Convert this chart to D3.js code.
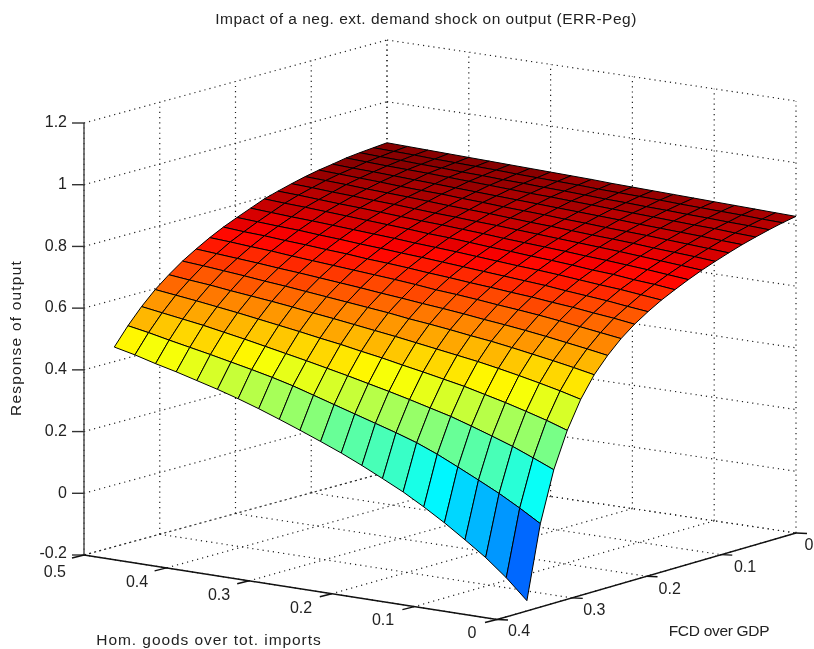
<!DOCTYPE html>
<html><head><meta charset="utf-8">
<style>html,body{margin:0;padding:0;background:#fff;overflow:hidden}svg{display:block;filter:blur(0.35px)}text{font-family:"Liberation Sans",Arial,sans-serif;fill:#222}</style>
<script src="https://cdn.jsdelivr.net/npm/d3@7"></script></head><body>
<svg id="c" width="814" height="649"></svg>
<script>
const titleText="Impact of a neg. ext. demand shock on output (ERR-Peg)";
const xLabel="Hom. goods over tot. imports", yLabel="FCD over GDP", zLabel="Response of output";
const homTicks=[0.5,0.4,0.3,0.2,0.1,0];
const fcdTicks=[0.4,0.3,0.2,0.1,0];
const zTicks=[-0.2,0,0.2,0.4,0.6,0.8,1,1.2];
const homGrid=[0.5,0.475,0.45,0.425,0.4,0.375,0.35,0.325,0.3,0.275,0.25,0.225,0.2,0.175,0.15,0.125,0.1,0.075,0.05,0.025,0];
const fcdGrid=[0,0.018,0.036,0.054,0.072,0.09,0.108,0.126,0.144,0.162,0.18,0.198,0.216,0.234,0.252,0.27,0.288,0.306,0.324,0.342,0.36];
const r00=[.867,.865,.863,.861,.859,.857,.855,.853,.851,.849,.847,.844,.842,.840,.838,.836,.834,.832,.830,.828,.826];
const r01=[.863,.861,.859,.856,.854,.852,.850,.847,.845,.843,.841,.838,.836,.834,.832,.829,.827,.825,.823,.820,.818];
const r02=[.859,.856,.854,.851,.849,.846,.844,.841,.839,.836,.834,.831,.828,.826,.823,.821,.818,.816,.813,.811,.808];
const r03=[.854,.851,.848,.846,.844,.841,.838,.835,.832,.829,.827,.824,.821,.818,.815,.812,.809,.806,.804,.800,.797];
const r04=[.846,.843,.841,.838,.835,.832,.829,.826,.823,.820,.817,.814,.811,.808,.805,.801,.798,.795,.792,.788,.785];
const r05=[.839,.836,.833,.830,.826,.823,.821,.817,.814,.810,.807,.804,.800,.797,.793,.790,.787,.783,.779,.775,.771];
const r06=[.830,.827,.824,.820,.817,.814,.810,.806,.803,.800,.796,.792,.789,.785,.781,.778,.774,.769,.765,.761,.756];
const r07=[.819,.816,.812,.809,.805,.802,.798,.794,.791,.787,.784,.780,.776,.772,.768,.764,.760,.755,.750,.745,.740];
const r08=[.807,.804,.800,.796,.793,.789,.785,.781,.778,.774,.770,.765,.761,.757,.753,.748,.744,.739,.734,.728,.722];
const r09=[.794,.790,.787,.783,.779,.775,.771,.767,.762,.759,.754,.749,.745,.740,.736,.731,.725,.721,.714,.709,.702];
const r10=[.776,.772,.768,.765,.761,.757,.753,.749,.744,.740,.736,.731,.726,.721,.717,.712,.706,.700,.695,.688,.681];
const r11=[.758,.754,.750,.747,.742,.738,.733,.729,.724,.720,.715,.710,.705,.700,.695,.690,.683,.677,.671,.663,.656];
const r12=[.739,.734,.731,.726,.722,.717,.713,.707,.703,.698,.692,.687,.681,.676,.670,.665,.658,.652,.644,.637,.628];
const r13=[.717,.713,.708,.704,.698,.693,.688,.683,.678,.673,.667,.660,.655,.649,.642,.636,.629,.621,.612,.603,.594];
const r14=[.692,.687,.682,.677,.671,.666,.660,.654,.648,.641,.635,.628,.622,.615,.607,.600,.592,.583,.573,.563,.552];
const r15=[.665,.660,.654,.648,.641,.635,.628,.621,.614,.607,.600,.591,.584,.576,.567,.559,.549,.538,.527,.515,.502];
const r16=[.633,.626,.620,.612,.605,.598,.590,.581,.573,.564,.555,.546,.536,.526,.516,.506,.494,.481,.467,.452,.435];
const r17=[.597,.589,.581,.572,.563,.553,.543,.533,.522,.512,.500,.489,.476,.464,.451,.438,.422,.406,.388,.369,.347];
const r18=[.554,.544,.534,.524,.512,.500,.487,.474,.461,.447,.433,.418,.403,.387,.370,.353,.332,.310,.287,.260,.232];
const r19=[.504,.492,.478,.465,.452,.438,.424,.409,.392,.372,.352,.332,.312,.292,.270,.243,.212,.180,.147,.110,.070];
const r20=[.447,.432,.414,.398,.380,.362,.342,.320,.296,.271,.245,.218,.188,.156,.123,.085,.044,-.001,-.048,-.103,-.167];
const rows=[r00,r01,r02,r03,r04,r05,r06,r07,r08,r09,r10,r11,r12,r13,r14,r15,r16,r17,r18,r19,r20];

const svg=d3.select("#c");
// oblique 3-D projection built from linear scales
const homS=d3.scaleLinear().domain([0.5,0]).range([0,1]);
const fcdS=d3.scaleLinear().domain([0,0.4]).range([0,1]);
const zS=d3.scaleLinear().domain([-0.2,1.2]).range([0,432]);
const backEdgeX=d3.scaleLinear().domain([0,1]).range([387,796]);
const backEdgeY=d3.scaleLinear().domain([0,1]).range([472,533]);
const frontEdgeX=d3.scaleLinear().domain([0,1]).range([84,497]);
const frontEdgeY=d3.scaleLinear().domain([0,1]).range([555,619.5]);
function P(h,f,z){
  const u=homS(h),v=fcdS(f);
  const x=d3.interpolateNumber(backEdgeX(u),frontEdgeX(u))(v);
  const y=d3.interpolateNumber(backEdgeY(u),frontEdgeY(u))(v);
  return [x,y-zS(z)];
}
const ln=d3.line();
const zMin=-0.2,zMax=1.2;
const dotted=svg.append("g").attr("fill","none").attr("stroke","#222").attr("stroke-width",1.2).attr("stroke-dasharray","1.2 4");
function dot(a,b){dotted.append("path").attr("d",ln([a,b]));}
// walls and floor grid
zTicks.forEach(z=>{
  dot(P(0.5,0.4,z),P(0.5,0,z));
  dot(P(0.5,0,z),P(0,0,z));
});
fcdTicks.forEach(f=>{
  dot(P(0.5,f,zMin),P(0.5,f,zMax));
  dot(P(0.5,f,zMin),P(0,f,zMin));
});
homTicks.forEach(h=>{
  dot(P(h,0,zMin),P(h,0,zMax));
  dot(P(h,0,zMin),P(h,0.4,zMin));
});
// axes
const axes=svg.append("g").attr("fill","none").attr("stroke","#111").attr("stroke-width",1.4);
axes.append("path").attr("d",ln([P(0.5,0.4,zMax),P(0.5,0.4,zMin)])).attr("stroke","#444");
axes.append("path").attr("d",ln([P(0.5,0.4,zMin),P(0,0.4,zMin)]));
axes.append("path").attr("d",ln([P(0,0.4,zMin),P(0,0,zMin)]));
zTicks.forEach(z=>{const p=P(0.5,0.4,z);axes.append("path").attr("d",ln([[p[0]-12,p[1]],p])).attr("stroke","#333");});
homTicks.forEach(h=>{const p=P(h,0.4,zMin);axes.append("path").attr("d",ln([p,[p[0]-12,p[1]+3]]));});
fcdTicks.forEach(f=>{const p=P(0,f,zMin);axes.append("path").attr("d",ln([p,[p[0]+11,p[1]+0.5]]));});
// surface
const jetScale=d3.scaleLinear().domain([0,1/8,3/8,5/8,7/8,1]).range(["#00008f","#0000ff","#00ffff","#ffff00","#ff0000","#800000"]);
const cMin=d3.min(rows,r=>d3.min(r)),cMax=d3.max(rows,r=>d3.max(r));
const colorIdx=d3.scaleLinear().domain([cMin,cMax]).range([0,64]);
const jet=v=>jetScale((Math.min(63,Math.floor(colorIdx(v)))+0.5)/64);
const surf=svg.append("g").attr("stroke","#000").attr("stroke-width",1).attr("stroke-linejoin","round");
for(let j=0;j<rows.length-1;j++){
  for(let i=0;i<homGrid.length-1;i++){
    const q=[[i,j],[i+1,j],[i+1,j+1],[i,j+1]].map(([a,b])=>P(homGrid[a],fcdGrid[b],rows[b][a]));
    surf.append("path").attr("d",ln(q)+"Z").attr("fill",jet(rows[j][i+1]));
  }
}
// text
const fs=16;
function label(s,x,y,anchor){return svg.append("text").attr("x",x).attr("y",y).attr("text-anchor",anchor||"middle").attr("dominant-baseline","middle").attr("font-size",fs).text(s);}
zTicks.forEach(z=>{const p=P(0.5,0.4,z);label(String(z),67,z===-0.2?p[1]-1.5:p[1],"end");});
const homLabelX=d3.scaleLinear().domain([0.4,0.1]).range([137,383]);
const homLabelY=d3.scaleLinear().domain([0.4,0.1]).range([583,621]);
homTicks.forEach(h=>{
  if(h===0.5) label("0.5",66,573,"end");
  else if(h===0) label("0",472,634);
  else label(String(h),homLabelX(h),homLabelY(h));
});
const fcdLabelX=d3.scaleLinear().domain([0.4,0.1]).range([519,745]);
const fcdLabelY=d3.scaleLinear().domain([0.4,0.1]).range([632,568]);
fcdTicks.forEach(f=>{
  if(f===0) label("0",813.5,546,"end");
  else label(String(f),fcdLabelX(f),fcdLabelY(f));
});
label(titleText,426,20).attr("font-size",15.5).attr("letter-spacing",0.5);
label(xLabel,209,641).attr("font-size",15.5).attr("letter-spacing",0.94);
label(yLabel,719,632).attr("font-size",15.5).attr("letter-spacing",-0.3);
label(zLabel,17,338).attr("font-size",15.5).attr("letter-spacing",1.2).attr("transform","rotate(-90 17 338)");
</script></body></html>
